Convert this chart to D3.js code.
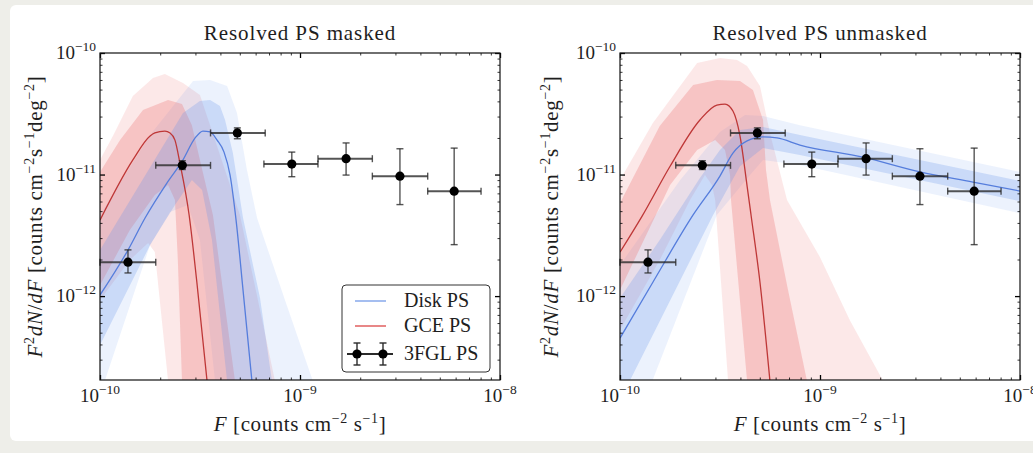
<!DOCTYPE html>
<html>
<head>
<meta charset="utf-8">
<script src="https://cdn.jsdelivr.net/npm/d3@7"></script>
<style>
  html, body { margin: 0; padding: 0; background: #eeeee9; }
  svg { display: block; }
  text { font-family: "Liberation Serif", "DejaVu Serif", serif; fill: #1e1e1e; }
</style>
</head>
<body>
<svg id="fig" width="1033" height="453"></svg>
<script>
// ---- 3FGL resolved point sources (same bins in both panels) ----
const fglF   = [1.38e-10, 2.58e-10, 4.86e-10, 9.1e-10, 1.7e-9, 3.16e-9, 5.9e-9];
const fglFlo = [1.0e-10, 1.9e-10, 3.57e-10, 6.6e-10, 1.23e-9, 2.3e-9, 4.35e-9];
const fglFhi = [1.9e-10, 3.57e-10, 6.7e-10, 1.23e-9, 2.3e-9, 4.35e-9, 8.04e-9];
const fglY   = [1.9e-12, 1.19e-11, 2.2e-11, 1.22e-11, 1.35e-11, 9.7e-12, 7.3e-12];
const fglYlo = [1.55e-12, 1.1e-11, 1.97e-11, 9.6e-12, 9.9e-12, 5.66e-12, 2.65e-12];
const fglYhi = [2.4e-12, 1.3e-11, 2.42e-11, 1.53e-11, 1.82e-11, 1.63e-11, 1.65e-11];

// ---- Masked fit: [F, F^2 dN/dF] ----
const maskedGceMedian = [[1.00e-10,4.22e-12],[1.46e-10,1.32e-11],[1.78e-10,2.08e-11],[1.88e-10,2.20e-11],[2.11e-10,2.28e-11],[2.24e-10,2.20e-11],[2.37e-10,1.92e-11],[2.51e-10,1.24e-11],[2.79e-10,4.65e-12],[3.05e-10,1.30e-12],[3.43e-10,2.0e-13]];
const maskedGce68Hi = [[1.00e-10,1.05e-11],[1.26e-10,1.92e-11],[1.64e-10,3.40e-11],[2.19e-10,4.10e-11],[2.57e-10,3.80e-11],[2.88e-10,2.55e-11],[3.16e-10,1.32e-11],[3.67e-10,4.65e-12],[4.73e-10,2.0e-13]];
const maskedGce68Lo = [[1.00e-10,1.23e-12],[1.41e-10,3.49e-12],[1.88e-10,6.78e-12],[2.19e-10,8.2e-12],[2.37e-10,6.17e-12],[2.45e-10,1.98e-12],[2.57e-10,2.0e-13]];
const maskedGce95Hi = [[1.00e-10,1.32e-11],[1.16e-10,2.08e-11],[1.46e-10,4.43e-11],[1.84e-10,6.23e-11],[2.11e-10,6.72e-11],[2.60e-10,5.66e-11],[3.16e-10,4.51e-11],[3.76e-10,1.92e-11],[5.01e-10,4.65e-12],[7.50e-10,2.0e-13]];
const maskedGce95Lo = [[1.00e-10,9.27e-13],[1.41e-10,1.98e-12],[1.74e-10,2.73e-12],[1.88e-10,2.30e-12],[2.19e-10,2.0e-13]];

const maskedDiskMedian = [[1.00e-10,1.02e-12],[1.38e-10,2.39e-12],[1.68e-10,4.39e-12],[2.16e-10,8.51e-12],[2.60e-10,1.32e-11],[2.99e-10,2.00e-11],[3.27e-10,2.28e-11],[3.55e-10,2.24e-11],[3.85e-10,1.92e-11],[4.17e-10,1.53e-11],[4.47e-10,9.91e-12],[4.79e-10,4.22e-12],[5.19e-10,1.12e-12],[5.75e-10,2.0e-13]];
const maskedDisk68Hi = [[1.00e-10,2.39e-12],[2.60e-10,3.21e-11],[3.16e-10,4.03e-11],[3.55e-10,4.10e-11],[3.98e-10,3.66e-11],[4.22e-10,2.81e-11],[4.62e-10,1.50e-11],[5.19e-10,4.39e-12],[6.31e-10,9.63e-13],[7.24e-10,2.0e-13]];
const maskedDisk68Lo = [[1.00e-10,3.95e-13],[1.78e-10,2.63e-12],[2.37e-10,5.61e-12],[2.88e-10,9.02e-12],[3.24e-10,7.45e-12],[3.63e-10,2.89e-12],[4.32e-10,2.0e-13]];
const maskedDisk95Hi = [[1.00e-10,4.65e-12],[1.78e-10,2.12e-11],[2.92e-10,5.89e-11],[3.55e-10,6.00e-11],[4.32e-10,5.35e-11],[4.84e-10,3.21e-11],[5.43e-10,1.09e-11],[6.10e-10,4.39e-12],[8.41e-10,9.27e-13],[1.16e-9,2.0e-13]];
const maskedDisk95Lo = [[1.00e-10,1.53e-13],[1.78e-10,2.63e-12],[2.24e-10,4.91e-12],[2.75e-10,5.61e-12],[3.16e-10,2.89e-12],[3.76e-10,2.0e-13]];

// ---- Unmasked fit: [F, F^2 dN/dF] ----
const unmaskedGceMedian = [[1.00e-10,2.30e-12],[1.29e-10,4.55e-12],[1.78e-10,1.17e-11],[2.51e-10,2.81e-11],[3.05e-10,3.73e-11],[3.35e-10,3.80e-11],[3.67e-10,3.33e-11],[3.98e-10,2.08e-11],[4.32e-10,8.04e-12],[4.52e-10,4.65e-12],[5.01e-10,1.30e-12],[5.62e-10,2.0e-13]];
const unmaskedGce68Hi = [[1.00e-10,5.82e-12],[1.58e-10,2.51e-11],[2.32e-10,5.45e-11],[3.05e-10,6.00e-11],[3.98e-10,5.89e-11],[4.62e-10,4.96e-11],[5.19e-10,2.81e-11],[5.37e-10,1.09e-11],[5.62e-10,6.17e-12],[6.92e-10,1.12e-12],[8.61e-10,2.0e-13]];
const unmaskedGce68Lo = [[1.00e-10,1.12e-12],[1.78e-10,8.2e-12],[2.43e-10,1.59e-11],[2.99e-10,1.92e-11],[3.35e-10,1.59e-11],[3.55e-10,9.91e-12],[3.59e-10,6.17e-12],[4.32e-10,2.0e-13]];
const unmaskedGce95Hi = [[1.00e-10,9.02e-12],[1.46e-10,2.65e-11],[2.43e-10,8.28e-11],[3.16e-10,9.10e-11],[3.85e-10,8.76e-11],[4.32e-10,7.81e-11],[5.01e-10,5.35e-11],[5.62e-10,2.20e-11],[6.84e-10,6.17e-12],[1.00e-9,2.09e-12],[1.41e-9,6.34e-13],[2.07e-9,2.0e-13]];
const unmaskedGce95Lo = [[1.00e-10,5.25e-13],[1.58e-10,1.98e-12],[2.24e-10,6.17e-12],[2.66e-10,9.91e-12],[2.88e-10,8.2e-12],[2.99e-10,6.17e-12],[3.47e-10,2.0e-13]];

const unmaskedDiskMedian = [[1.00e-10,4.51e-13],[1.46e-10,1.30e-12],[2.32e-10,4.65e-12],[3.16e-10,9.72e-12],[3.67e-10,1.50e-11],[4.32e-10,1.89e-11],[5.19e-10,2.04e-11],[6.10e-10,2.00e-11],[7.94e-10,1.75e-11],[1.64e-9,1.39e-11],[3.16e-9,1.05e-11],[5.82e-9,8.68e-12],[1.00e-8,7.31e-12]];
const unmaskedDisk68Hi = [[1.00e-10,9.63e-13],[1.58e-10,2.89e-12],[2.51e-10,9.35e-12],[3.16e-10,1.59e-11],[3.98e-10,2.32e-11],[5.19e-10,2.46e-11],[7.94e-10,2.12e-11],[1.00e-8,8.85e-12]];
const unmaskedDisk68Lo = [[1.00e-10,1.39e-13],[2.92e-10,4.65e-12],[3.98e-10,1.17e-11],[5.19e-10,1.65e-11],[7.94e-10,1.45e-11],[1.00e-8,6.05e-12]];
const unmaskedDisk95Hi = [[1.00e-10,1.80e-12],[2.00e-10,9.02e-12],[3.16e-10,2.24e-11],[4.22e-10,3.09e-11],[5.19e-10,3.03e-11],[7.94e-10,2.55e-11],[1.00e-8,1.05e-11]];
const unmaskedDisk95Lo = [[1.00e-10,2.0e-13],[1.45e-10,2.0e-13],[3.05e-10,4.65e-12],[4.47e-10,9.91e-12],[5.19e-10,1.32e-11],[7.94e-10,1.20e-11],[1.00e-8,4.82e-12]];

// ---- axis ticks and labels ----
const xMajorTicks = [1e-10, 1e-9, 1e-8];
const yMajorTicks = [1e-12, 1e-11, 1e-10];
const xTickExps = ["−10", "−9", "−8"];
const yTickExps = ["−12", "−11", "−10"];
const panelTitles = ["Resolved PS masked", "Resolved PS unmasked"];
const legendLabels = ["Disk PS", "GCE PS", "3FGL PS"];

const svg = d3.select("#fig");
svg.append("rect").attr("x", 10).attr("y", 5).attr("width", 1040).attr("height", 436)
  .attr("rx", 6).attr("fill", "#ffffff");

const RED = "rgb(236,120,120)", BLUE = "rgb(100,149,237)";
const W = 400, TOP = 53, BOTTOM = 380;

function minorTicks(lo, hi) {
  const out = [];
  for (let e = Math.round(Math.log10(lo)); e < Math.round(Math.log10(hi)); e++)
    for (let k = 2; k <= 9; k++) out.push(k * Math.pow(10, e));
  return out;
}

// Appends runs of text; a run may be italic or a superscript.
function richText(sel, parts, supSize, supShift) {
  let prevSup = false;
  parts.forEach(p => {
    const t = sel.append("tspan").text(p.t);
    if (p.it) t.attr("font-style", "italic");
    if (p.sup) t.attr("font-size", supSize).attr("dy", -supShift);
    else if (prevSup) t.attr("dy", supShift);
    prevSup = !!p.sup;
  });
}

const panels = [
  { left: 100, title: panelTitles[0], legend: true, ylabGap: 58,
    gce: [maskedGceMedian, maskedGce68Hi, maskedGce68Lo, maskedGce95Hi, maskedGce95Lo],
    disk: [maskedDiskMedian, maskedDisk68Hi, maskedDisk68Lo, maskedDisk95Hi, maskedDisk95Lo] },
  { left: 620, title: panelTitles[1], legend: false, ylabGap: 62,
    gce: [unmaskedGceMedian, unmaskedGce68Hi, unmaskedGce68Lo, unmaskedGce95Hi, unmaskedGce95Lo],
    disk: [unmaskedDiskMedian, unmaskedDisk68Hi, unmaskedDisk68Lo, unmaskedDisk95Hi, unmaskedDisk95Lo] }
];

panels.forEach((p, pi) => {
  const x = d3.scaleLog().domain([1e-10, 1e-8]).range([p.left, p.left + W]);
  const y = d3.scaleLog().domain([2.04e-13, 1e-10]).range([BOTTOM, TOP]);
  const g = svg.append("g");

  const clipId = "clip" + pi;
  g.append("clipPath").attr("id", clipId).append("rect")
    .attr("x", p.left).attr("y", TOP).attr("width", W).attr("height", BOTTOM - TOP);
  const plot = g.append("g").attr("clip-path", `url(#${clipId})`);

  const line = d3.line().x(d => x(d[0])).y(d => y(d[1]));
  const smooth = d3.line().x(d => x(d[0])).y(d => y(d[1])).curve(d3.curveMonotoneX);
  const band = (hi, lo) => line(hi.concat(lo.slice().reverse())) + "Z";

  // credible bands: 95% (light) then 68% (darker)
  plot.append("path").attr("d", band(p.gce[3], p.gce[4])).attr("fill", RED).attr("fill-opacity", 0.17);
  plot.append("path").attr("d", band(p.disk[3], p.disk[4])).attr("fill", BLUE).attr("fill-opacity", 0.12);
  plot.append("path").attr("d", band(p.gce[1], p.gce[2])).attr("fill", RED).attr("fill-opacity", 0.32);
  plot.append("path").attr("d", band(p.disk[1], p.disk[2])).attr("fill", BLUE).attr("fill-opacity", 0.25);

  // medians
  plot.append("path").attr("d", smooth(p.gce[0])).attr("fill", "none")
    .attr("stroke", "rgb(190,55,55)").attr("stroke-width", 1.3);
  plot.append("path").attr("d", smooth(p.disk[0])).attr("fill", "none")
    .attr("stroke", "rgb(85,125,220)").attr("stroke-width", 1.3);

  // 3FGL points with error bars
  const pts = g.append("g");
  fglF.forEach((f, i) => {
    const cx = x(f), cy = y(fglY[i]);
    const x0 = x(fglFlo[i]), x1 = x(fglFhi[i]);
    const y0 = y(fglYlo[i]), y1 = y(fglYhi[i]);
    const eb = pts.append("g").attr("stroke", "#2a2a2a").attr("stroke-opacity", 0.8).attr("stroke-width", 1.4);
    eb.append("line").attr("x1", x0).attr("x2", x1).attr("y1", cy).attr("y2", cy).attr("stroke-width", 2);
    eb.append("line").attr("x1", cx).attr("x2", cx).attr("y1", y0).attr("y2", y1);
    [x0, x1].forEach(v => eb.append("line").attr("x1", v).attr("x2", v).attr("y1", cy - 3.5).attr("y2", cy + 3.5));
    [y0, y1].forEach(v => eb.append("line").attr("x1", cx - 3.5).attr("x2", cx + 3.5).attr("y1", v).attr("y2", v));
    pts.append("circle").attr("cx", cx).attr("cy", cy).attr("r", 4.6).attr("fill", "#000");
  });

  // ticks on all four sides, pointing inward
  const L = BOTTOM - TOP;
  const mk = (axis, tr, major, size) => {
    const a = g.append("g").attr("transform", tr)
      .call(axis.tickValues(major).tickSize(-size).tickSizeOuter(0).tickFormat(() => ""));
    a.select(".domain").remove();
    a.selectAll("line").attr("stroke", "#000").attr("stroke-width", size > 3 ? 1.3 : 0.8);
  };
  const xm = minorTicks(1e-10, 1e-8), ym = minorTicks(1e-13, 1e-10).filter(v => v >= 2.04e-13);
  mk(d3.axisBottom(x), `translate(0,${BOTTOM})`, xMajorTicks, 5);
  mk(d3.axisBottom(x), `translate(0,${BOTTOM})`, xm, 2.5);
  mk(d3.axisTop(x), `translate(0,${TOP})`, xMajorTicks, 5);
  mk(d3.axisTop(x), `translate(0,${TOP})`, xm, 2.5);
  mk(d3.axisLeft(y), `translate(${p.left},0)`, yMajorTicks, 5);
  mk(d3.axisLeft(y), `translate(${p.left},0)`, ym, 2.5);
  mk(d3.axisRight(y), `translate(${p.left + W},0)`, yMajorTicks, 5);
  mk(d3.axisRight(y), `translate(${p.left + W},0)`, ym, 2.5);

  // frame
  g.append("rect").attr("x", p.left).attr("y", TOP).attr("width", W).attr("height", L)
    .attr("fill", "none").attr("stroke", "#111").attr("stroke-width", 1.2);

  // tick labels
  xMajorTicks.forEach((v, i) => {
    const t = g.append("text").attr("x", x(v)).attr("y", 402).attr("text-anchor", "middle")
      .attr("font-size", 19);
    richText(t, [{ t: "10" }, { t: xTickExps[i], sup: true }], 13.5, 8);
  });
  yMajorTicks.forEach((v, i) => {
    const t = g.append("text").attr("x", p.left - 4).attr("y", y(v) + 6).attr("text-anchor", "end")
      .attr("font-size", 19);
    richText(t, [{ t: "10" }, { t: yTickExps[i], sup: true }], 13.5, 8);
  });

  // title
  g.append("text").attr("x", p.left + W / 2).attr("y", 40).attr("text-anchor", "middle")
    .attr("font-size", 21).attr("letter-spacing", 0.9).text(p.title);

  // x label
  const xl = g.append("text").attr("x", p.left + W / 2).attr("y", 431).attr("text-anchor", "middle")
    .attr("font-size", 21).attr("letter-spacing", 0.6);
  richText(xl, [
    { t: "F", it: true }, { t: " [counts cm" }, { t: "−2", sup: true }, { t: " s" }, { t: "−1", sup: true }, { t: "]" }
  ], 14, 8.5);

  // y label
  const yl = g.append("text")
    .attr("transform", `translate(${p.left - p.ylabGap},${(TOP + BOTTOM) / 2}) rotate(-90)`)
    .attr("text-anchor", "middle").attr("font-size", 21).attr("letter-spacing", 0.7);
  richText(yl, [
    { t: "F", it: true }, { t: "2", sup: true }, { t: "dN", it: true }, { t: "/" }, { t: "dF", it: true },
    { t: " [counts cm" }, { t: "−2", sup: true }, { t: "s" }, { t: "−1", sup: true }, { t: "deg" }, { t: "−2", sup: true }, { t: "]" }
  ], 14, 8.5);

  // legend
  if (p.legend) {
    const lg = g.append("g");
    lg.append("rect").attr("x", 342).attr("y", 285).attr("width", 148).attr("height", 87).attr("rx", 4)
      .attr("fill", "#fff").attr("stroke", "#333").attr("stroke-width", 1);
    const hx0 = 355, hx1 = 386, tx = 404;
    lg.append("line").attr("x1", hx0).attr("x2", hx1).attr("y1", 301).attr("y2", 301)
      .attr("stroke", "rgb(165,190,240)").attr("stroke-width", 2);
    lg.append("line").attr("x1", hx0).attr("x2", hx1).attr("y1", 326).attr("y2", 326)
      .attr("stroke", "rgb(225,95,95)").attr("stroke-width", 1.5);
    const ey = 354;
    const hb = lg.append("g").attr("stroke", "#2a2a2a").attr("stroke-width", 1.4);
    hb.append("line").attr("x1", 347).attr("x2", 393).attr("y1", ey).attr("y2", ey).attr("stroke-width", 2);
    [357, 383].forEach(cx => {
      hb.append("line").attr("x1", cx).attr("x2", cx).attr("y1", ey - 11).attr("y2", ey + 11);
      hb.append("line").attr("x1", cx - 3.5).attr("x2", cx + 3.5).attr("y1", ey - 11).attr("y2", ey - 11);
      hb.append("line").attr("x1", cx - 3.5).attr("x2", cx + 3.5).attr("y1", ey + 11).attr("y2", ey + 11);
      lg.append("circle").attr("cx", cx).attr("cy", ey).attr("r", 4.6).attr("fill", "#000");
    });
    [301, 326, 354].forEach((yy, i) => {
      lg.append("text").attr("x", tx).attr("y", yy + 6).attr("font-size", 20).text(legendLabels[i]);
    });
  }
});
</script>
</body>
</html>
